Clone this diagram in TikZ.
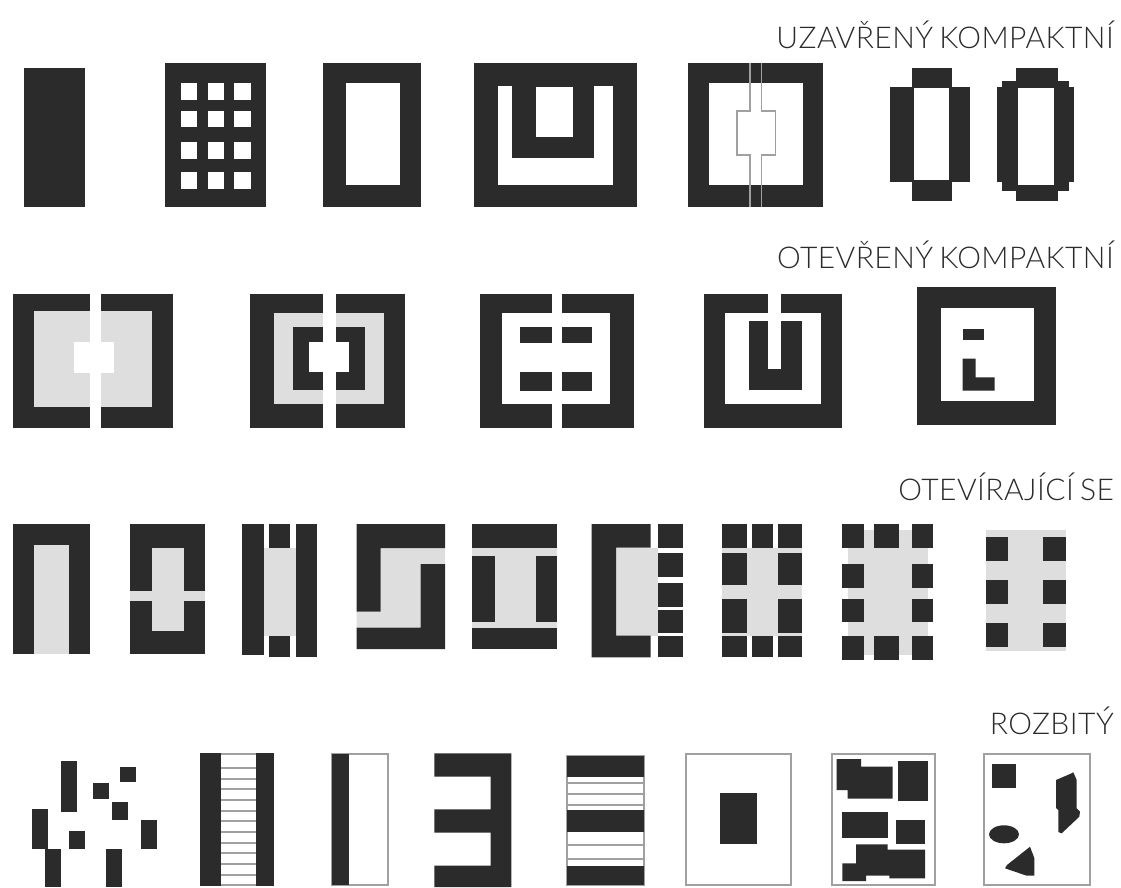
\documentclass[tikz,border=0pt]{standalone}
\usepackage{fontspec}
\setmainfont{Lato Light}[LetterSpace=1.5, WordSpace=0.7]
\definecolor{inkcol}{HTML}{2B2B2B}
\definecolor{palecol}{HTML}{DEDEDE}
\definecolor{linecol}{HTML}{A0A0A0}
\begin{document}
\begin{tikzpicture}[x=1pt, y=-1pt,
    ink/.style={fill=inkcol},
    pale/.style={fill=palecol},
    hole/.style={fill=white},
    thinline/.style={draw=linecol, line width=1.8pt},
    rowlabel/.style={anchor=base east, inner sep=0pt, text=inkcol, font=\fontsize{30}{30}\selectfont}]
  \useasboundingbox (0,0) rectangle (1121,887);

  % --- Row 1 ---
  \node[rowlabel] (closedlabel) at (1114,48) {UZAVŘENÝ KOMPAKTNÍ};

  \fill[ink] (23.6,67.7) rectangle (85,206.7);

  \fill[ink] (165,62.5) rectangle (266.4,206.7);
  \foreach \wy/\wh in {83/100, 110.5/127, 142/159, 171.5/188.5} {
    \foreach \wx/\ww in {181/197, 207.5/224, 234/250.7} {
      \fill[hole] (\wx,\wy) rectangle (\ww,\wh);
    }
  }

  \fill[ink] (322.5,62.5) rectangle (420.7,206.7);
  \fill[hole] (346.4,83) rectangle (400,185);

  \fill[ink] (474.3,62.5) rectangle (637,206.7);
  \fill[hole] (498.2,86) rectangle (613,185);
  \fill[ink] (512,80) rectangle (594,158.3);
  \fill[hole] (535.7,86.5) rectangle (573.2,137);

  \fill[ink] (688,62.5) rectangle (823.3,206.7);
  \fill[hole] (708.5,83) rectangle (802.6,185);
  \draw[thinline] (749.6,62.5) -- (749.6,110.7) -- (736.7,110.7) -- (736.7,154.7) -- (749.6,154.7) -- (749.6,206.7);
  \draw[thinline] (761.4,62.5) -- (761.4,110.7) -- (775.4,110.7) -- (775.4,154.7) -- (761.4,154.7) -- (761.4,206.7);

  \fill[ink] (889.9,86.7) rectangle (970.4,182.3);
  \fill[ink] (911.7,68.3) rectangle (951.8,201);
  \fill[hole] (914.2,88.3) rectangle (949.3,180);

  \fill[ink] (997.2,86.7) rectangle (1074.1,182.3);
  \fill[ink] (1001.9,81) rectangle (1069.1,190.7);
  \fill[ink] (1016.2,68.3) rectangle (1058,201);
  \fill[hole] (1018,88) rectangle (1053.7,185);

  % --- Row 2 ---
  \node[rowlabel] (openlabel) at (1114,268) {OTEVŘENÝ KOMPAKTNÍ};

  \fill[ink] (12.9,294.3) rectangle (172.9,427.7);
  \fill[pale] (33.9,310.7) rectangle (151.8,406.7);
  \fill[hole] (90.4,294.3) rectangle (101,427.7);
  \fill[hole] (73.9,342.3) rectangle (114.3,372.7);

  \fill[ink] (250,294.3) rectangle (405.4,427.7);
  \fill[pale] (273.6,313.3) rectangle (383.6,404);
  \fill[ink] (292.9,326.7) rectangle (365,390.3);
  \fill[hole] (322.5,294.3) rectangle (335.7,427.7);
  \fill[hole] (308.6,342.3) rectangle (348.9,371.7);

  \fill[ink] (479.6,294.3) rectangle (634,427.7);
  \fill[hole] (501.8,313) rectangle (610.4,404);
  \fill[hole] (551.8,294.3) rectangle (562,427.7);
  \fill[ink] (519.6,326.7) rectangle (551.8,342.5);
  \fill[ink] (519.6,371.8) rectangle (551.8,390.5);
  \fill[ink] (562,326.7) rectangle (591.5,342.5);
  \fill[ink] (562,371.8) rectangle (591.5,390.5);

  \fill[ink] (703.8,294.3) rectangle (842,427.7);
  \fill[hole] (724.6,312.7) rectangle (821.2,404);
  \fill[hole] (767.9,294.3) rectangle (781.1,313);
  \fill[ink] (749.3,321) rectangle (801.9,390.3);
  \fill[hole] (767.9,321) rectangle (781.1,369);

  \fill[ink] (917,286.7) rectangle (1055.5,425);
  \fill[hole] (941,307.7) rectangle (1034.4,401.3);
  \fill[ink] (962.5,329.3) rectangle (984,340);
  \fill[ink] (962.5,358.7) -- (975.7,358.7) -- (975.7,377.3) -- (994.7,377.3) -- (994.7,390.7) -- (962.5,390.7) -- cycle;

  % --- Row 3 ---
  \node[rowlabel] (openinglabel) at (1114,500) {OTEVÍRAJÍCÍ SE};

  \fill[ink] (12.7,524) rectangle (90.3,654.3);
  \fill[pale] (34.3,545.3) rectangle (69,654.3);

  \fill[ink] (130,524) rectangle (205,654.3);
  \fill[pale] (151.7,547.7) rectangle (183.7,630.7);
  \fill[pale] (130,591) rectangle (205,601);

  \fill[pale] (263.7,547.7) rectangle (295.7,636.3);
  \fill[ink] (242.3,524) rectangle (263.7,654.7);
  \fill[ink] (295.7,524) rectangle (317,657);
  \fill[ink] (269,524) rectangle (290.3,547.7);
  \fill[ink] (269,636.3) rectangle (290.3,657);

  \fill[pale] (380.7,548) -- (445,548) -- (445,564) -- (420.7,564) -- (420.7,627.7) -- (356.7,627.7) -- (356.7,611.7) -- (380.7,611.7) -- cycle;
  \fill[ink] (356.7,524) -- (445,524) -- (445,548) -- (380.7,548) -- (380.7,611.7) -- (356.7,611.7) -- cycle;
  \fill[ink] (445,564) -- (420.7,564) -- (420.7,627.7) -- (356.7,627.7) -- (356.7,649) -- (445,649) -- cycle;

  \fill[pale] (471.8,547.7) rectangle (557,627.7);
  \fill[ink] (471.8,524) rectangle (557,547.7);
  \fill[ink] (471.8,627.7) rectangle (557,649.3);
  \fill[ink] (471.8,556) rectangle (495.4,622.3);
  \fill[ink] (535.9,556) rectangle (557,622.3);

  \fill[pale] (616,547.7) rectangle (658.1,635.7);
  \fill[ink] (591.5,524) -- (650.6,524) -- (650.6,547.7) -- (616,547.7) -- (616,635.7) -- (650.6,635.7) -- (650.6,657.3) -- (591.5,657.3) -- cycle;
  \foreach \sy/\sh in {524/547.7, 553.3/577.3, 582.7/606.7, 609.7/633.3, 636/657.3} {
    \fill[ink] (658.1,\sy) rectangle (682.6,\sh);
  }

  \fill[pale] (722.2,547.7) rectangle (802.3,636);
  \foreach \sx/\sw in {722.2/746.7, 751.7/772.8, 778.3/802.3} {
    \fill[ink] (\sx,524) rectangle (\sw,547.7);
    \fill[ink] (\sx,636) rectangle (\sw,657.3);
  }
  \foreach \sx/\sw in {722.2/746.7, 778.3/802.3} {
    \fill[ink] (\sx,553.3) rectangle (\sw,585.3);
    \fill[ink] (\sx,599) rectangle (\sw,633.3);
  }

  \fill[pale] (847.9,530) rectangle (928,655);
  \foreach \sx/\sw in {842.4/863.9, 874.4/898.5, 911.5/933} {
    \fill[ink] (\sx,524) rectangle (\sw,547.7);
    \fill[ink] (\sx,636) rectangle (\sw,660);
  }
  \foreach \sx/\sw in {842.4/863.9, 911.5/933} {
    \fill[ink] (\sx,564.3) rectangle (\sw,587.7);
    \fill[ink] (\sx,598.7) rectangle (\sw,622.3);
  }

  \fill[pale] (986.1,530) rectangle (1066.2,651);
  \foreach \sy/\sh in {537.3/561, 580/604, 622.7/646.7} {
    \fill[ink] (986.1,\sy) rectangle (1008,\sh);
    \fill[ink] (1042.6,\sy) rectangle (1066.2,\sh);
  }

  % --- Row 4 ---
  \node[rowlabel] (brokenlabel) at (1114,734) {ROZBITÝ};

  \fill[ink] (61,761.3) rectangle (77,811.7);
  \fill[ink] (119.7,766.7) rectangle (135.7,782.3);
  \fill[ink] (93,782.7) rectangle (109,798.7);
  \fill[ink] (111.7,801.7) rectangle (127.7,820);
  \fill[ink] (31.7,809.3) rectangle (47.7,849);
  \fill[ink] (141,820) rectangle (157,849);
  \fill[ink] (69,830.7) rectangle (85,849);
  \fill[ink] (45,849) rectangle (61,887);
  \fill[ink] (106.3,849) rectangle (122.3,887);

  \foreach \ry in {754.3, 767.7, 778.7, 789.3, 800, 810.7, 821.3, 832, 842.7, 853.3, 864, 874.7, 885.3} {
    \draw[thinline] (221,\ry) -- (256,\ry);
  }
  \fill[ink] (200,753.3) rectangle (221,886);
  \fill[ink] (256,753.3) rectangle (274.3,886);

  \draw[thinline] (332.3,754.3) rectangle (388.3,885);
  \fill[ink] (332.3,754.3) rectangle (348.7,885);

  \fill[ink] (434.3,753.3) -- (511.3,753.3) -- (511.3,887) -- (434.3,887) -- (434.3,865.7) -- (490.7,865.7) -- (490.7,832.7) -- (434.3,832.7) -- (434.3,809.3) -- (490.7,809.3) -- (490.7,776.7) -- (434.3,776.7) -- cycle;

  \draw[thinline] (566.7,755.7) rectangle (644,885);
  \foreach \ry in {783.3, 794.3, 805.3, 845, 858.7} {
    \draw[thinline] (566.7,\ry) -- (644,\ry);
  }
  \fill[ink] (566.7,755.7) rectangle (644,776.7);
  \fill[ink] (566.7,810) rectangle (644,832.3);
  \fill[ink] (566.7,866) rectangle (644,885);

  \draw[thinline] (686,754.3) rectangle (790.7,885);
  \fill[ink] (719.7,793.3) rectangle (757,844);

  \draw[thinline] (832.3,754) rectangle (935.3,885);
  \fill[ink] (836.7,759) -- (861,759) -- (861,766.7) -- (892.7,766.7) -- (892.7,798.7) -- (847.7,798.7) -- (847.7,790) -- (836.7,790) -- cycle;
  \fill[ink] (898.3,761.3) rectangle (927.7,801);
  \fill[ink] (842.3,812.3) rectangle (887.7,838.3);
  \fill[ink] (896,820) rectangle (925,844);
  \fill[ink] (842.3,863.3) -- (856,863.3) -- (856,844.3) -- (887.7,844.3) -- (887.7,849.7) -- (925,849.7) -- (925,878.3) -- (889.3,878.3) -- (889.3,875.7) -- (866,875.7) -- (866,881) -- (842.3,881) -- cycle;

  \draw[thinline] (984.3,754) rectangle (1090,885);
  \fill[ink] (991.7,764.3) rectangle (1015.7,787.7);
  \fill[ink] (1004,834.3) ellipse (15 and 9);
  \fill[ink] (1056,780) -- (1070,774) -- (1073.3,772.3) -- (1076.7,780) -- (1076.7,808.3) -- (1080,811.7) -- (1079.3,816.7) -- (1061.7,833.3) -- (1058.3,832) -- (1058.3,810) -- (1056,808) -- cycle;
  \fill[ink] (1030,846.7) -- (1034.3,858) -- (1034.3,875.7) -- (1026.7,875.7) -- (1005,868.3) -- (1007,865) -- cycle;
\end{tikzpicture}
\end{document}
